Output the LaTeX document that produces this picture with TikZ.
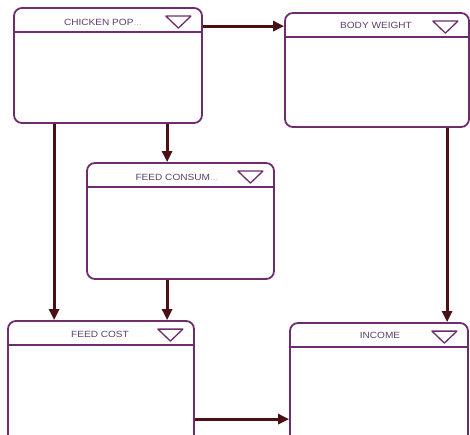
\documentclass[tikz,border=0pt]{standalone}
\usepackage{fontspec}
\setmainfont{Liberation Sans}
\usetikzlibrary{arrows.meta}
\definecolor{boxc}{HTML}{6E2C6E}
\definecolor{txtc}{HTML}{5E3F6E}
\definecolor{arrc}{HTML}{4A1014}
\tikzset{
  varbox/.style={draw=boxc, line width=1.8pt, rounded corners=8pt, fill=white, inner sep=0pt},
  hdr/.style={draw=boxc, line width=1.6pt},
  tri/.style={draw=boxc, line width=1.3pt, line join=round},
  lbl/.style={text=txtc, font=\fontsize{9}{10}\selectfont, inner sep=0pt},
  link/.style={draw=arrc, line width=3pt, -{Triangle[length=11pt,width=10pt]}}
}
\newcommand\wide[1]{\scalebox{1.12}[1]{#1}}
\begin{document}
\begin{tikzpicture}[x=1pt,y=-1pt]
\useasboundingbox (0,0) rectangle (470,435);
\clip (0,0) rectangle (470,435);
% boxes
\node[varbox, minimum width=188pt, minimum height=115pt] (chick) at (108,65.5) {};
\node[varbox, minimum width=184pt, minimum height=114pt] (body) at (377,70) {};
\node[varbox, minimum width=187pt, minimum height=116pt] (fcons) at (180.5,221) {};
\node[varbox, minimum width=186pt, minimum height=124pt] (fcost) at (101,383) {};
\node[varbox, minimum width=178pt, minimum height=122pt] (income) at (379,384) {};
% headers and triangles
\foreach \n in {chick,body,fcons,fcost,income}{
  \draw[hdr] ([yshift=-25pt]\n.north west) -- ([yshift=-25pt]\n.north east);
  \draw[tri] ([xshift=-37pt,yshift=-9pt]\n.north east) -- ([xshift=-12pt,yshift=-9pt]\n.north east)
     -- ([xshift=-24.5pt,yshift=-21pt]\n.north east) -- cycle;
}
% labels
\node[lbl] (tchick) at (103,22) {\wide{CHICKEN POP\textcolor{txtc!40}{...}}};
\node[lbl] (tbody) at (376,25) {\wide{BODY WEIGHT}};
\node[lbl] (tfcons) at (177,177) {\wide{FEED CONSUM\textcolor{txtc!40}{...}}};
\node[lbl] (tfcost) at (100,334) {\wide{FEED COST}};
\node[lbl] (tincome) at (380,335) {\wide{INCOME}};
% connectors
\draw[link] ([yshift=-19pt]chick.north east) -- ([yshift=-14pt]body.north west);
\draw[link] ([xshift=154pt]chick.south west) -- ([xshift=81pt]fcons.north west);
\draw[link] ([xshift=41pt]chick.south west) -- ([xshift=47pt]fcost.north west);
\draw[link] ([xshift=81pt]fcons.south west) -- ([xshift=160pt]fcost.north west);
\draw[link] ([xshift=163pt]body.south west) -- ([xshift=158pt]income.north west);
\draw[link] ([yshift=-99pt]fcost.north east) -- ([yshift=-97pt]income.north west);
\end{tikzpicture}
\end{document}
